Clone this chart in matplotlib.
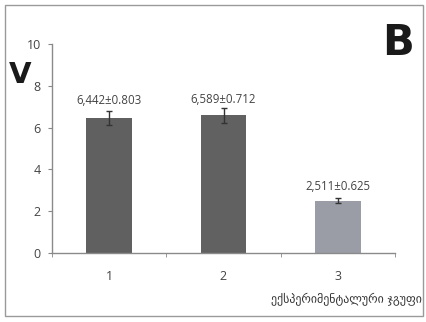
import matplotlib
matplotlib.use("Agg")
import matplotlib.pyplot as plt
from matplotlib.patches import Rectangle

groups = ["1", "2", "3"]
means = [6.442, 6.589, 2.511]
sd = [0.803, 0.712, 0.625]
err_drawn = [0.33, 0.35, 0.13]
bar_colors = ["#606060", "#616161", "#9a9da5"]
value_labels = ["6,442\u00b10.803", "6,589\u00b10.712", "2,511\u00b10.625"]
y_ticks = [0, 2, 4, 6, 8, 10]
x_title = "ექსპერიმენტალური ჯგუფი"

fig = plt.figure(figsize=(4.26, 3.22), dpi=100)
fig.patch.set_facecolor("white")

# outer frame around the panel
fig.patches.append(Rectangle((5 / 426, 6 / 322), 418 / 426, 311 / 322,
                             transform=fig.transFigure, fill=False,
                             edgecolor="#9a9a9a", linewidth=1.0))

ax = fig.add_axes([52 / 426, (322 - 253) / 322, 343 / 426, 209 / 322])
x = list(range(len(groups)))
ax.bar(x, means, width=0.40, color=bar_colors, zorder=2)
ax.errorbar(x, means, yerr=err_drawn, fmt="none", ecolor="#333333",
            elinewidth=1.0, capsize=2.5, capthick=1.0, zorder=3)

for xi, m, s, lab in zip(x, means, sd, value_labels):
    ax.text(xi, m + s + 0.05, lab, ha="center", va="center",
            fontsize=8.3, color="#444444", family="Open Sans")

ax.set_xlim(-0.5, 2.5)
ax.set_ylim(0, 10)
ax.set_yticks(y_ticks)
ax.set_xticks(x)
ax.set_xticklabels(groups)
ax.set_xticks([-0.5, 0.5, 1.5, 2.5], minor=True)
ax.tick_params(axis="x", which="major", length=0, pad=12,
               labelsize=9, labelcolor="#444444")
ax.tick_params(axis="x", which="minor", length=3, color="#888888",
               direction="out")
ax.tick_params(axis="y", length=3, color="#888888", direction="out",
               labelsize=9, labelcolor="#444444", pad=5)
for lab in ax.get_xticklabels() + ax.get_yticklabels():
    lab.set_family("Open Sans")

for side in ("top", "right"):
    ax.spines[side].set_visible(False)
for side in ("left", "bottom"):
    ax.spines[side].set_color("#8a8a8a")
    ax.spines[side].set_linewidth(1.0)

fig.text(20 / 426, 1 - 75 / 322, "V", ha="center", va="center",
         fontsize=21, fontweight="heavy", color="#1a1a1a", family="DejaVu Sans")
fig.text(398 / 426, 1 - 43 / 322, "B", ha="center", va="center",
         fontsize=30, fontweight="bold", color="#1a1a1a", family="DejaVu Sans")
fig.text(422 / 426, 1 - 300 / 322, x_title, ha="right", va="center",
         fontsize=8.6, color="#333333", family="DejaVu Sans")

fig.savefig("out.png", dpi=100, facecolor="white")
